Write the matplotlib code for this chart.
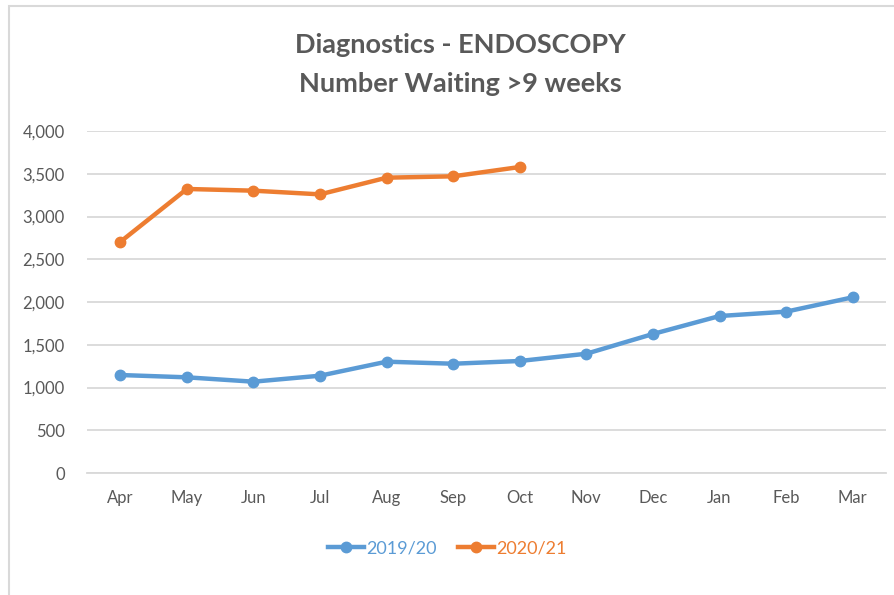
import matplotlib
matplotlib.use("Agg")
import matplotlib.pyplot as plt
from matplotlib import font_manager
from matplotlib.lines import Line2D
from matplotlib.patches import Rectangle

names = {f.name for f in font_manager.fontManager.ttflist}
FONT = "Liberation Sans Narrow" if "Liberation Sans Narrow" in names else "Lato"
plt.rcParams['font.family'] = [FONT, 'DejaVu Sans']

months = ["Apr", "May", "Jun", "Jul", "Aug", "Sep", "Oct", "Nov", "Dec", "Jan", "Feb", "Mar"]
series_2019 = [1146, 1119, 1068, 1138, 1302, 1278, 1310, 1395, 1626, 1836, 1887, 2055]
series_2020 = [2703, 3322, 3302, 3259, 3454, 3470, 3579]
yticks = [0, 500, 1000, 1500, 2000, 2500, 3000, 3500, 4000]
title_lines = ["Diagnostics - ENDOSCOPY", "Number Waiting >9 weeks"]

BLUE = "#5B9BD5"
ORANGE = "#ED7D31"
TXT = "#595959"
GRID = "#D9D9D9"

fig = plt.figure(figsize=(8.95, 5.95), dpi=100)
fig.patches.append(Rectangle((8.5/895, -0.01), 1.1, 1 - 5.5/595 + 0.01, transform=fig.transFigure,
                             fill=False, edgecolor=GRID, linewidth=1.5))
ax = fig.add_axes([87/895, 1 - 473/595, (886 - 87)/895, (473 - 131)/595])

x = list(range(len(months)))
ax.plot(x, series_2019, color=BLUE, lw=3.2, marker='o', ms=7.5, solid_capstyle='round', label="2019/20", zorder=3)
ax.plot(x[:len(series_2020)], series_2020, color=ORANGE, lw=3.2, marker='o', ms=7.5, solid_capstyle='round', label="2020/21", zorder=3)

ax.set_xlim(-0.5, len(months) - 0.5)
ax.set_ylim(0, 4000)
ax.set_yticks(yticks)
ax.set_yticklabels([f"{v:,}" for v in yticks])
ax.set_xticks(x)
ax.set_xticklabels(months)
ax.yaxis.grid(True, color=GRID, lw=1.3)
ax.set_axisbelow(True)
for s in ax.spines.values():
    s.set_visible(False)
ax.spines['bottom'].set_visible(True)
ax.spines['bottom'].set_color(GRID)
ax.spines['bottom'].set_linewidth(1.3)
ax.tick_params(axis='both', length=0, colors=TXT, labelsize=12)
ax.tick_params(axis='y', pad=16)
ax.tick_params(axis='x', pad=12)

fig.text(460/895, 1 - 45/595, title_lines[0], ha='center', va='center', fontsize=19.5, fontweight='bold', color=TXT)
fig.text(460/895, 1 - 84/595, title_lines[1], ha='center', va='center', fontsize=19.5, fontweight='bold', color=TXT)

handles = [Line2D([0], [0], color=BLUE, lw=3.2, marker='o', ms=7.5),
           Line2D([0], [0], color=ORANGE, lw=3.2, marker='o', ms=7.5)]
leg = fig.legend(handles, ["2019/20", "2020/21"], loc='center', bbox_to_anchor=(447/895, 1 - 548/595),
                 ncol=2, frameon=False, fontsize=13, handlelength=2.0, handletextpad=0.1, columnspacing=1.2)
for t, c in zip(leg.get_texts(), [BLUE, ORANGE]):
    t.set_color(c)

fig.savefig("out.png", dpi=100)
